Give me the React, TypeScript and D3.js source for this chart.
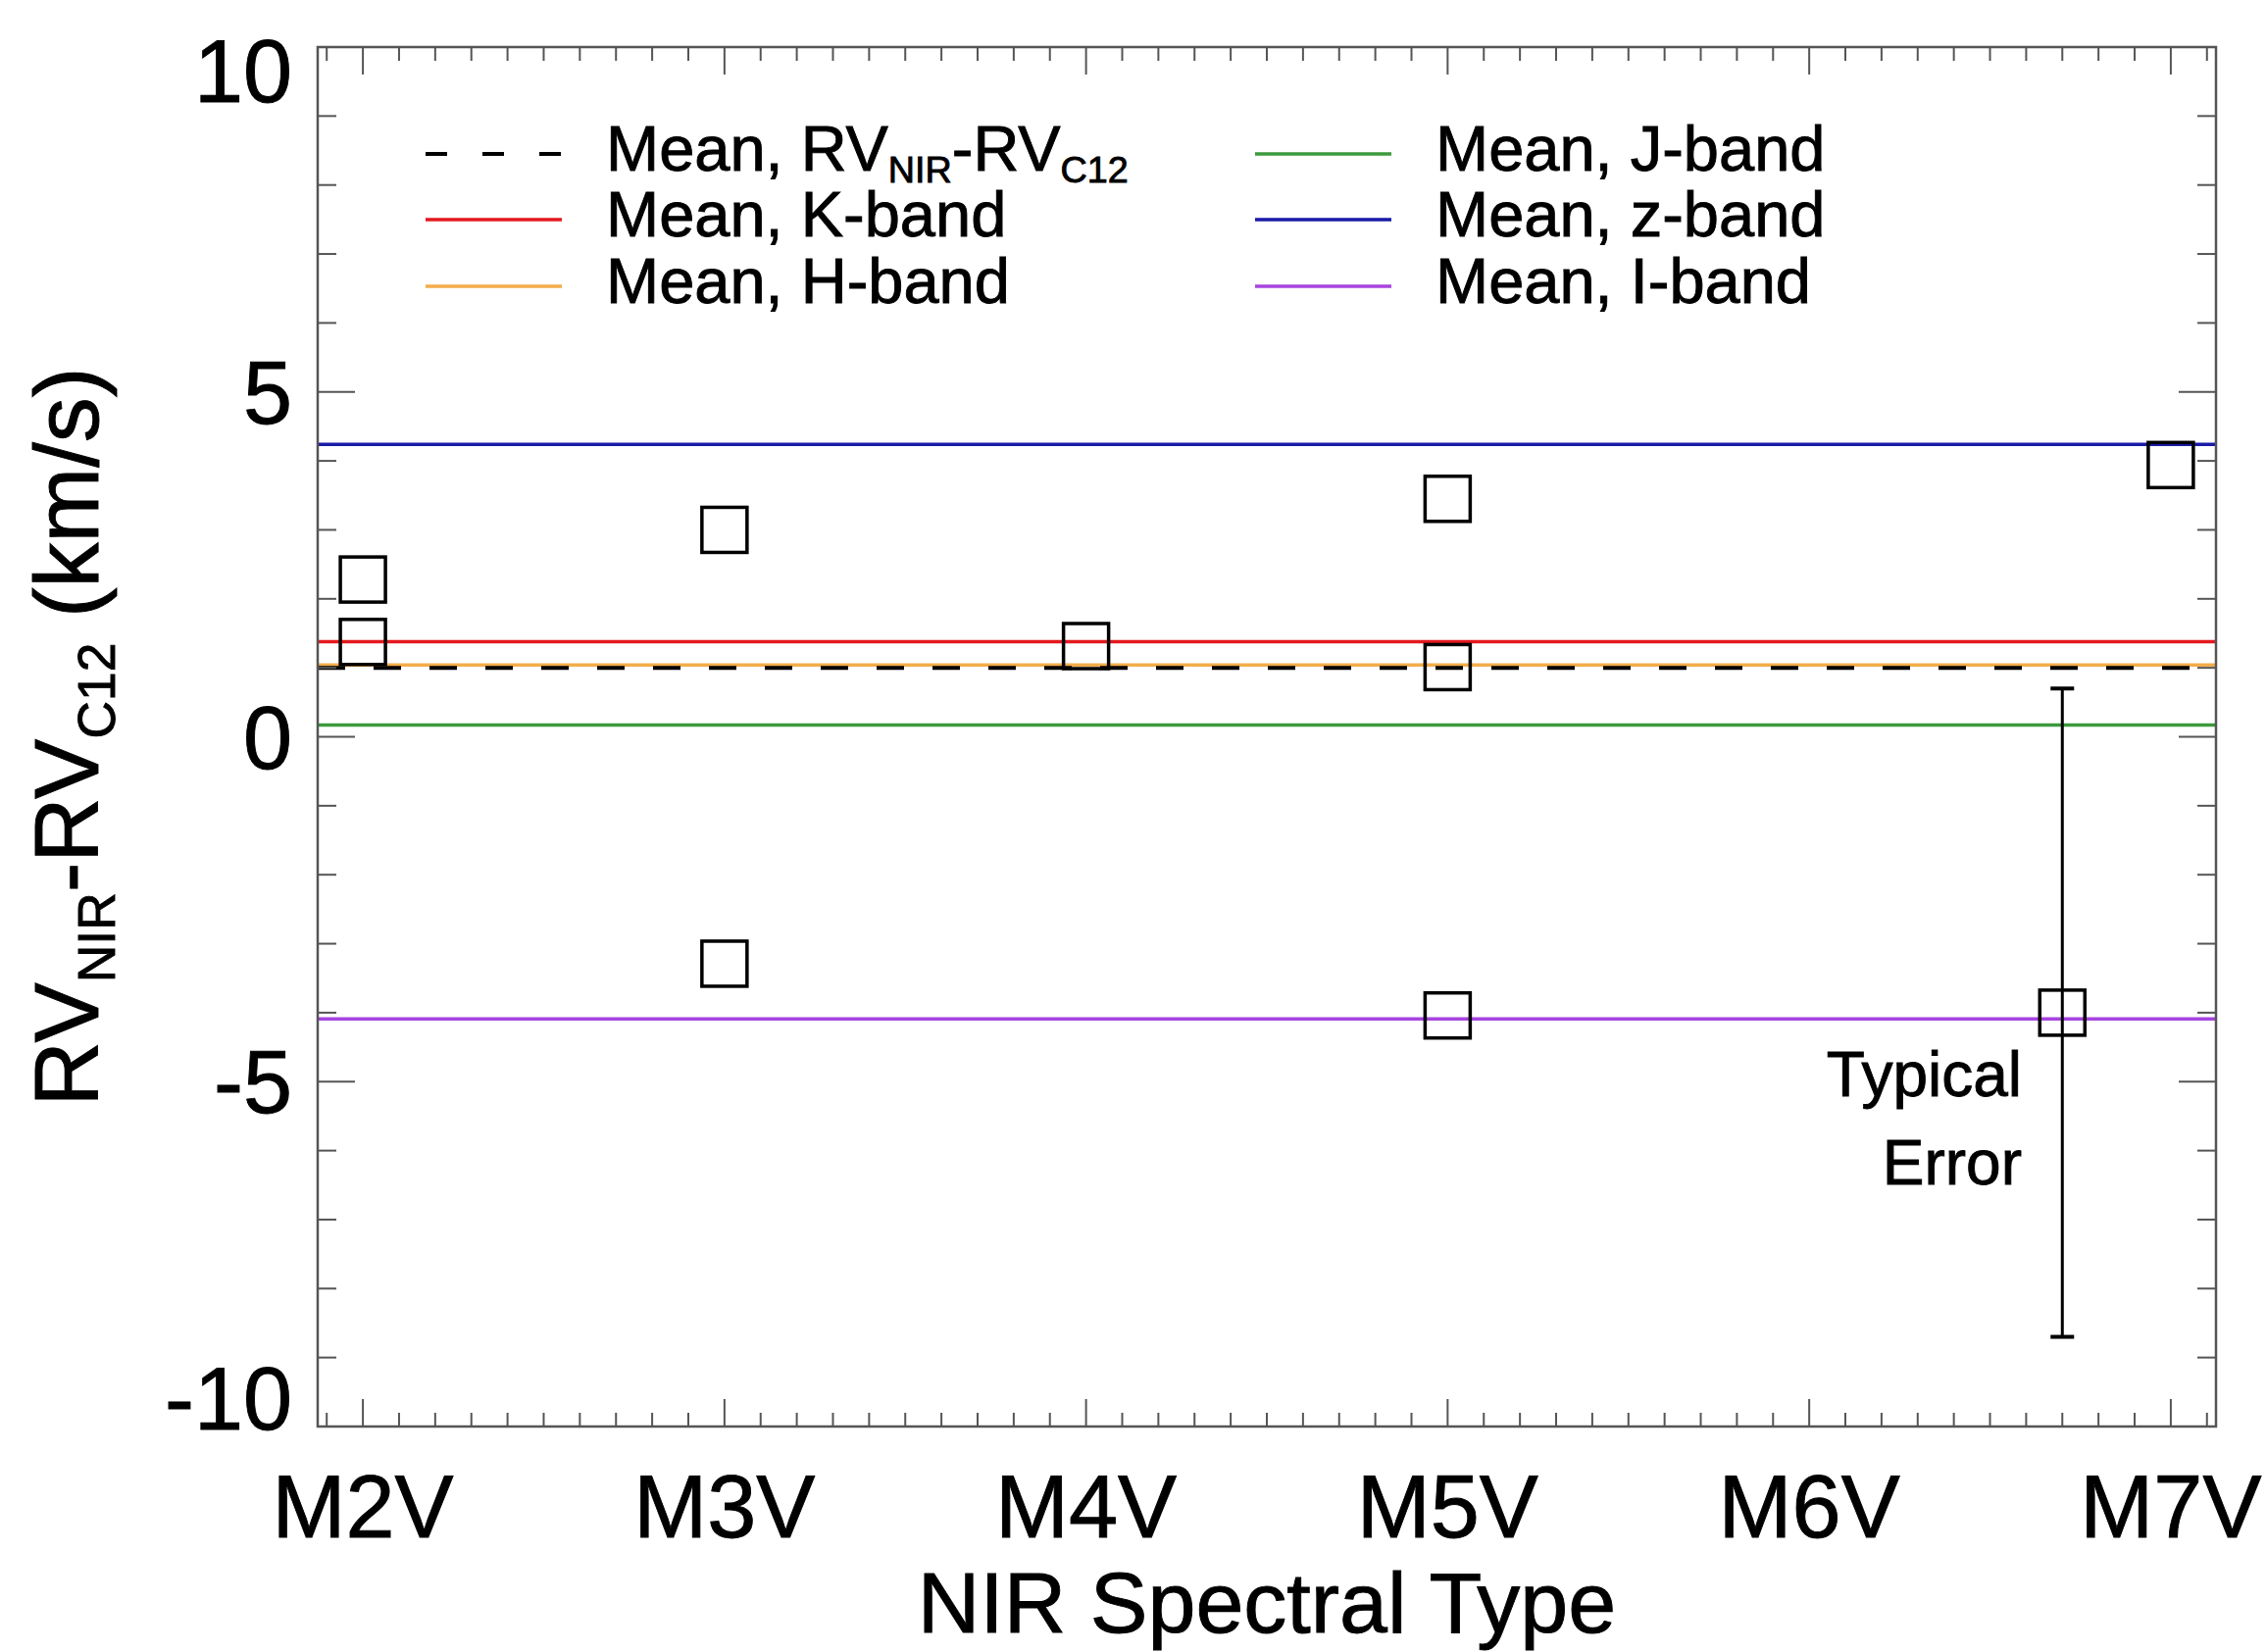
import React from 'react';
import * as d3 from 'd3';

// Spectral types along the x axis (numeric position = subtype)
const spectralTypes = ['M2V', 'M3V', 'M4V', 'M5V', 'M6V', 'M7V'];
const spectralIndex = [2, 3, 4, 5, 6, 7];
const yTickValues = [-10, -5, 0, 5, 10];

// RV_NIR - RV_C12 offsets for the individual standards (km/s)
const pointTypes = [2, 2, 3, 3, 4, 5, 5, 5, 7];
const pointValues = [2.28, 1.375, 3.0, -3.29, 1.315, 3.45, 1.01, -4.04, 3.94];

// Mean offsets per band (km/s)
const meanKeys = ['all', 'K', 'H', 'J', 'z', 'I'];
const meanValues = [1.0, 1.38, 1.04, 0.17, 4.24, -4.09];
const meanColors = ['#000000', '#e3191f', '#f2ad4a', '#3d9a3d', '#1a1aa8', '#a745e0'];

// Legend text: [text, isSubscript]
const meanLabels: [string, boolean][][] = [
  [['Mean, RV', false], ['NIR', true], ['-RV', false], ['C12', true]],
  [['Mean, K-band', false]],
  [['Mean, H-band', false]],
  [['Mean, J-band', false]],
  [['Mean, z-band', false]],
  [['Mean, I-band', false]],
];

// Typical error bar
const errorType = 6.7;
const errorValue = -4.0;
const errorHalf = 4.7;
const errorLabel = ['Typical', 'Error'];

const W = 2311;
const H = 1685;
const FONT = '"Liberation Sans", Arial, Helvetica, sans-serif';

const plot = { left: 324, right: 2260, top: 48, bottom: 1455 };

function Rich({ parts, size }: { parts: [string, boolean][]; size: number }) {
  const shift = size * 0.18;
  let prevSub = false;
  return (
    <>
      {parts.map(([t, sub], i) => {
        let dy = 0;
        if (sub && !prevSub) dy = shift;
        if (!sub && prevSub) dy = -shift;
        prevSub = sub;
        return (
          <tspan key={i} dy={dy} fontSize={sub ? size * 0.58 : size}>
            {t}
          </tspan>
        );
      })}
    </>
  );
}

export default function App() {
  const x = d3.scaleLinear().domain([1.875, 7.125]).range([plot.left, plot.right]);
  const y = d3.scaleLinear().domain([-10, 10]).range([plot.bottom, plot.top]);

  const xMinor = d3.range(19, 72).map((i) => i / 10).filter((v) => Math.abs(v - Math.round(v)) > 1e-6);
  const yMinor = d3.range(-9, 10).filter((v) => v % 5 !== 0);

  const xMajLen = 28, xMinLen = 14, yMajLen = 38, yMinLen = 19;
  const axisColor = '#555';
  const sq = 46;
  const textStroke = { stroke: '#000', strokeWidth: 0.9 };

  // draw the overall mean (dashed) above the H-band line
  const drawOrder = [1, 2, 3, 4, 5, 0];

  const legendRowsY = [157, 224, 292];
  const legendCols = [
    { x1: 434, x2: 573, tx: 618 },
    { x1: 1280, x2: 1419, tx: 1464 },
  ];

  return (
    <svg
      width={W}
      height={H}
      viewBox={`0 0 ${W} ${H}`}
      style={{ position: 'absolute', left: 0, top: 0, background: '#fff' }}
      fontFamily={FONT}
    >
      <rect x={0} y={0} width={W} height={H} fill="#fff" />

      {/* mean lines */}
      {drawOrder.map((i) => (
        <line
          key={meanKeys[i]}
          x1={plot.left}
          x2={plot.right}
          y1={y(meanValues[i])}
          y2={y(meanValues[i])}
          stroke={meanColors[i]}
          strokeWidth={i === 0 ? 4 : 3.5}
          strokeDasharray={i === 0 ? '28 29' : undefined}
        />
      ))}

      {/* individual standards */}
      {pointValues.map((v, i) => (
        <rect
          key={i}
          x={x(pointTypes[i]) - sq / 2}
          y={y(v) - sq / 2}
          width={sq}
          height={sq}
          fill="none"
          stroke="#000"
          strokeWidth={3.5}
        />
      ))}

      {/* typical error */}
      <g stroke="#000" strokeWidth={3}>
        <line x1={x(errorType)} x2={x(errorType)} y1={y(errorValue + errorHalf)} y2={y(errorValue - errorHalf)} />
        <line x1={x(errorType) - 12} x2={x(errorType) + 12} y1={y(errorValue + errorHalf)} y2={y(errorValue + errorHalf)} strokeWidth={4} />
        <line x1={x(errorType) - 12} x2={x(errorType) + 12} y1={y(errorValue - errorHalf)} y2={y(errorValue - errorHalf)} strokeWidth={4} />
        <rect x={x(errorType) - sq / 2} y={y(errorValue) - sq / 2} width={sq} height={sq} fill="none" strokeWidth={3.5} />
      </g>
      <g fontSize={64} textAnchor="end" fill="#000" {...textStroke}>
        <text x={2062} y={1118}>{errorLabel[0]}</text>
        <text x={2062} y={1208}>{errorLabel[1]}</text>
      </g>

      {/* legend */}
      {meanKeys.map((k, i) => {
        const col = legendCols[Math.floor(i / 3)];
        const ly = legendRowsY[i % 3];
        return (
          <g key={'lg' + k}>
            <line
              x1={col.x1}
              x2={col.x2}
              y1={ly}
              y2={ly}
              stroke={meanColors[i]}
              strokeWidth={i === 0 ? 4 : 3.5}
              strokeDasharray={i === 0 ? '22 36' : undefined}
            />
            <text x={col.tx} y={ly + 17} fontSize={65} fill="#000" {...textStroke}>
              <Rich parts={meanLabels[i]} size={65} />
            </text>
          </g>
        );
      })}

      {/* frame */}
      <rect
        x={plot.left}
        y={plot.top}
        width={plot.right - plot.left}
        height={plot.bottom - plot.top}
        fill="none"
        stroke={axisColor}
        strokeWidth={2.5}
      />

      {/* x ticks, bottom and top; y ticks, left and right */}
      <g stroke={axisColor} strokeWidth={2}>
        {spectralIndex.map((v) => (
          <g key={'xM' + v}>
            <line x1={x(v)} x2={x(v)} y1={plot.bottom} y2={plot.bottom - xMajLen} />
            <line x1={x(v)} x2={x(v)} y1={plot.top} y2={plot.top + xMajLen} />
          </g>
        ))}
        {xMinor.map((v) => (
          <g key={'xm' + v}>
            <line x1={x(v)} x2={x(v)} y1={plot.bottom} y2={plot.bottom - xMinLen} />
            <line x1={x(v)} x2={x(v)} y1={plot.top} y2={plot.top + xMinLen} />
          </g>
        ))}
        {yTickValues.map((v) => (
          <g key={'yM' + v}>
            <line x1={plot.left} x2={plot.left + yMajLen} y1={y(v)} y2={y(v)} />
            <line x1={plot.right} x2={plot.right - yMajLen} y1={y(v)} y2={y(v)} />
          </g>
        ))}
        {yMinor.map((v) => (
          <g key={'ym' + v}>
            <line x1={plot.left} x2={plot.left + yMinLen} y1={y(v)} y2={y(v)} />
            <line x1={plot.right} x2={plot.right - yMinLen} y1={y(v)} y2={y(v)} />
          </g>
        ))}
      </g>

      {/* x tick labels */}
      <g fontSize={90} textAnchor="middle" fill="#000" {...textStroke}>
        {spectralTypes.map((t, i) => (
          <text key={t} x={x(spectralIndex[i])} y={1568}>
            {t}
          </text>
        ))}
      </g>

      {/* y tick labels */}
      <g fontSize={90} textAnchor="end" fill="#000" {...textStroke}>
        {yTickValues.map((v) => {
          const nudge = v === 10 ? 24 : v === -10 ? -29 : 0;
          return (
            <text key={'yl' + v} x={298} y={y(v) + nudge + 32}>
              {v}
            </text>
          );
        })}
      </g>

      {/* axis titles */}
      <text x={(plot.left + plot.right) / 2} y={1665} fontSize={88} textAnchor="middle" fill="#000" {...textStroke}>
        NIR Spectral Type
      </text>
      <text
        transform={`translate(100, ${(plot.top + plot.bottom) / 2}) rotate(-90)`}
        textAnchor="middle"
        fontSize={92}
        fill="#000"
        {...textStroke}
      >
        <Rich
          parts={[
            ['RV', false],
            ['NIR', true],
            ['-RV', false],
            ['C12', true],
            [' (km/s)', false],
          ]}
          size={92}
        />
      </text>
    </svg>
  );
}
